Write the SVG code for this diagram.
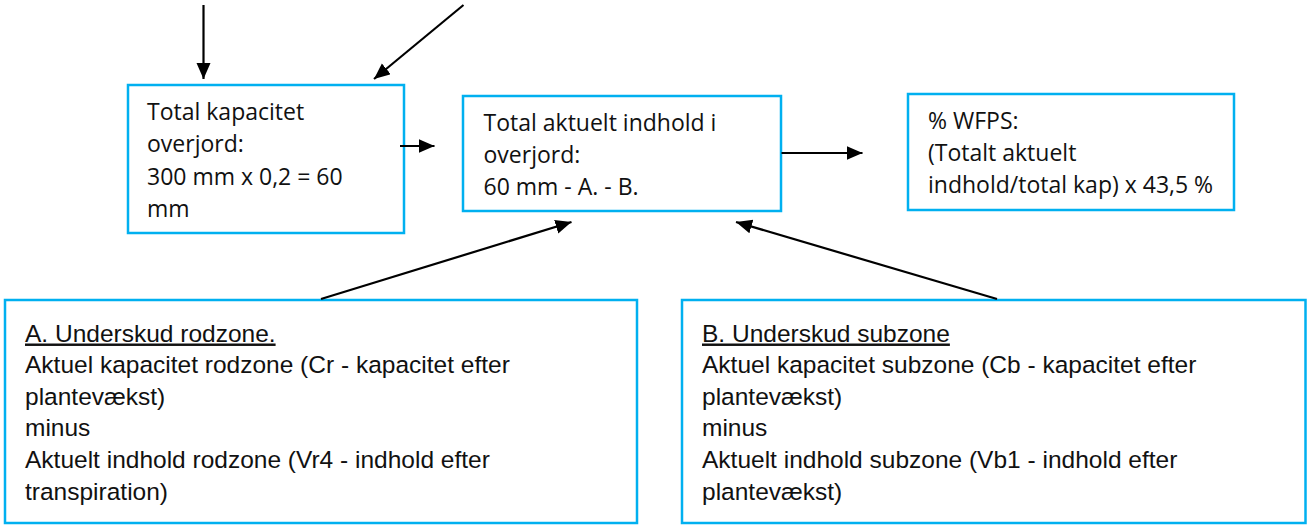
<svg xmlns="http://www.w3.org/2000/svg" width="1307" height="526" viewBox="0 0 1307 526">
<style>
.box{fill:#fff;stroke:#00B0F0;stroke-width:2.5}
.t{font-family:"Open Sans","DejaVu Sans",sans-serif;font-size:23px;fill:#111}
.b{font-family:"Liberation Sans",Arial,sans-serif;font-size:24.5px;fill:#111}
.c{fill:none;stroke:#000;stroke-width:2.2}
</style>
<defs>
<marker id="ah" markerUnits="userSpaceOnUse" markerWidth="18" markerHeight="16" refX="16" refY="7" orient="auto">
<path d="M0,0 L16,7 L0,14 z" fill="#000"/>
</marker>
</defs>
<rect width="1307" height="526" fill="#fff"/>
<g id="box1">
<rect class="box" x="128" y="85" width="276" height="148"/>
<text class="t" x="147" y="120">Total kapacitet</text>
<text class="t" x="147" y="152">overjord:</text>
<text class="t" x="147" y="184.5">300 mm x 0,2 = 60</text>
<text class="t" x="147" y="216.5">mm</text>
</g>
<g id="box2">
<rect class="box" x="463" y="96" width="318" height="115"/>
<text class="t" x="483.5" y="131">Total aktuelt indhold i</text>
<text class="t" x="483.5" y="162.5">overjord:</text>
<text class="t" x="483.5" y="194.5">60 mm - A. - B.</text>
</g>
<g id="box3">
<rect class="box" x="908" y="94" width="326" height="116"/>
<text class="t" x="928" y="128.5">% WFPS:</text>
<text class="t" x="928" y="161">(Totalt aktuelt</text>
<text class="t" x="928" y="193">indhold/total kap) x 43,5 %</text>
</g>
<g id="boxA">
<rect class="box" x="5" y="300" width="632" height="223"/>
<text class="b" x="25" y="341.5" text-decoration="underline">A. Underskud rodzone.</text>
<text class="b" x="25" y="373.1">Aktuel kapacitet rodzone (Cr - kapacitet efter</text>
<text class="b" x="25" y="404.7">plantevækst)</text>
<text class="b" x="25" y="436.3">minus</text>
<text class="b" x="25" y="467.9">Aktuelt indhold rodzone (Vr4 - indhold efter</text>
<text class="b" x="25" y="499.5">transpiration)</text>
</g>
<g id="boxB">
<rect class="box" x="682" y="300" width="623.5" height="223"/>
<text class="b" x="702" y="341.5" text-decoration="underline">B. Underskud subzone</text>
<text class="b" x="702" y="373.1">Aktuel kapacitet subzone (Cb - kapacitet efter</text>
<text class="b" x="702" y="404.7">plantevækst)</text>
<text class="b" x="702" y="436.3">minus</text>
<text class="b" x="702" y="467.9">Aktuelt indhold subzone (Vb1 - indhold efter</text>
<text class="b" x="702" y="499.5">plantevækst)</text>
</g>
<g id="connectors">
<line class="c" x1="203.5" y1="5" x2="203.5" y2="79" marker-end="url(#ah)"/>
<line class="c" x1="463.5" y1="5" x2="374" y2="79" marker-end="url(#ah)"/>
<line class="c" x1="400" y1="146" x2="434.5" y2="146" marker-end="url(#ah)"/>
<line class="c" x1="781.5" y1="153" x2="862.5" y2="153" marker-end="url(#ah)"/>
<line class="c" x1="321" y1="299" x2="571.5" y2="222" marker-end="url(#ah)"/>
<line class="c" x1="997" y1="299" x2="736" y2="222" marker-end="url(#ah)"/>
</g>
</svg>
